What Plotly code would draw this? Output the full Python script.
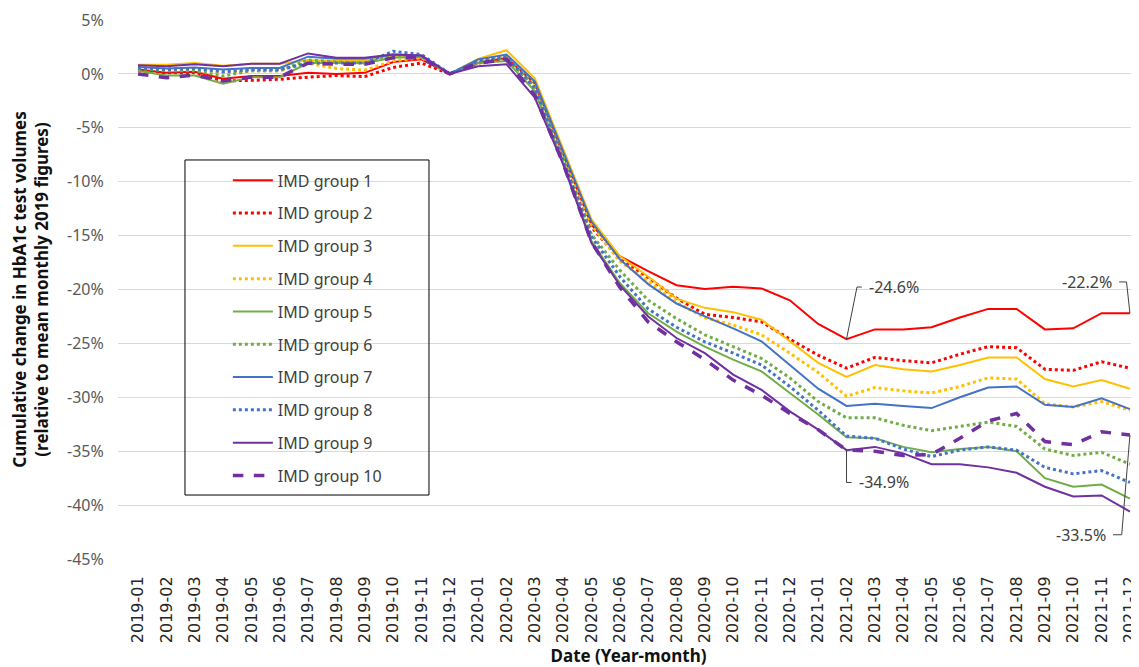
import plotly.graph_objects as go

months = ["2019-01","2019-02","2019-03","2019-04","2019-05","2019-06","2019-07","2019-08","2019-09","2019-10","2019-11","2019-12",
          "2020-01","2020-02","2020-03","2020-04","2020-05","2020-06","2020-07","2020-08","2020-09","2020-10","2020-11","2020-12",
          "2021-01","2021-02","2021-03","2021-04","2021-05","2021-06","2021-07","2021-08","2021-09","2021-10","2021-11","2021-12"]

imd1 = [0.4, 0.1, 0.2, -0.45, -0.2, -0.2, 0.1, 0.0, 0.1, 1.1, 1.35, 0, 1.0, 1.5, -0.9, -7.5, -14.0, -16.9, -18.3, -19.6, -19.95, -19.75, -19.9, -21.0, -23.2, -24.6, -23.7, -23.7, -23.5, -22.6, -21.8, -21.8, -23.7, -23.6, -22.2, -22.2]
imd2 = [0.3, 0.1, 0.1, -0.65, -0.6, -0.5, -0.3, -0.15, -0.25, 0.6, 1.0, 0, 1.0, 1.4, -1.0, -7.6, -14.2, -17.2, -18.9, -20.8, -22.3, -22.6, -23.0, -24.6, -26.1, -27.3, -26.3, -26.6, -26.8, -26.0, -25.3, -25.4, -27.4, -27.5, -26.7, -27.3]
imd3 = [0.85, 0.85, 1.0, 0.75, 0.95, 0.95, 1.3, 1.2, 1.2, 1.7, 1.6, 0, 1.4, 2.2, -0.4, -7.0, -13.5, -16.9, -18.8, -20.85, -21.7, -22.1, -22.8, -24.8, -26.8, -28.1, -27.0, -27.4, -27.6, -27.0, -26.3, -26.3, -28.3, -29.0, -28.4, -29.2]
imd4 = [0.6, 0.5, 0.5, 0.1, 0.3, 0.3, 1.0, 0.5, 0.35, 1.2, 1.5, 0, 1.2, 1.7, -0.8, -7.5, -14.0, -17.4, -19.2, -21.2, -22.6, -23.3, -24.2, -25.9, -27.7, -29.9, -29.1, -29.4, -29.6, -29.0, -28.2, -28.3, -30.6, -30.9, -30.4, -31.2]
imd5 = [0.3, -0.15, -0.15, -0.9, -0.3, -0.3, 1.0, 1.0, 1.0, 1.5, 1.6, 0, 1.0, 1.2, -1.6, -8.2, -15.5, -19.4, -22.2, -23.9, -25.3, -26.5, -27.6, -29.6, -31.6, -33.7, -33.8, -34.6, -35.1, -34.8, -34.6, -35.0, -37.5, -38.3, -38.1, -39.4]
imd6 = [0.5, 0.3, 0.3, -0.2, 0.3, 0.3, 1.3, 1.1, 1.0, 1.7, 1.6, 0, 1.2, 1.5, -1.2, -7.9, -14.9, -18.2, -21.0, -22.7, -24.2, -25.3, -26.4, -28.2, -30.4, -31.9, -31.9, -32.6, -33.1, -32.7, -32.3, -32.7, -34.8, -35.4, -35.1, -36.2]
imd7 = [0.65, 0.5, 0.6, 0.4, 0.55, 0.55, 1.6, 1.4, 1.4, 1.8, 1.7, 0, 1.35, 1.8, -0.7, -7.2, -13.7, -17.2, -19.5, -21.3, -22.5, -23.6, -24.8, -27.0, -29.2, -30.8, -30.6, -30.8, -31.0, -30.0, -29.1, -29.0, -30.7, -30.9, -30.1, -31.1]
imd8 = [0.55, 0.4, 0.5, 0.2, 0.4, 0.4, 1.0, 1.0, 1.0, 2.1, 1.8, 0, 1.2, 1.6, -1.3, -8.0, -15.1, -18.8, -21.8, -23.5, -24.85, -25.9, -27.0, -29.0, -31.2, -33.6, -33.8, -34.8, -35.5, -34.9, -34.6, -34.9, -36.5, -37.1, -36.8, -37.9]
imd9 = [0.8, 0.7, 0.9, 0.7, 0.95, 0.95, 1.9, 1.5, 1.5, 1.8, 1.7, 0, 0.7, 0.9, -2.2, -8.4, -15.7, -19.6, -22.5, -24.5, -25.9, -27.9, -29.3, -31.3, -33.0, -34.9, -34.6, -35.2, -36.2, -36.2, -36.5, -37.0, -38.3, -39.2, -39.1, -40.6]
imd10 = [0.0, -0.35, -0.1, -0.65, -0.3, -0.3, 1.0, 0.9, 0.9, 1.5, 1.5, 0, 1.0, 1.35, -2.0, -8.3, -15.6, -19.8, -23.0, -24.85, -26.5, -28.4, -29.8, -31.5, -33.0, -34.9, -35.0, -35.4, -35.3, -33.8, -32.2, -31.5, -34.1, -34.4, -33.2, -33.5]

series_names = ["IMD group 1","IMD group 2","IMD group 3","IMD group 4","IMD group 5",
                "IMD group 6","IMD group 7","IMD group 8","IMD group 9","IMD group 10"]
series_values = [imd1, imd2, imd3, imd4, imd5, imd6, imd7, imd8, imd9, imd10]
colors = ["#FF0000","#FF0000","#FFC000","#FFC000","#70AD47","#70AD47","#4472C4","#4472C4","#7030A0","#7030A0"]
dashes = ["solid","dot","solid","dot","solid","dot","solid","dot","solid","dash"]
widths = [2, 3, 2, 3, 2, 3, 2, 3, 2, 3.5]

y_ticks = [5, 0, -5, -10, -15, -20, -25, -30, -35, -40, -45]
y_ticktext = [f"{v}%" for v in y_ticks]

fig = go.Figure()
for name, vals, c, d, w in zip(series_names, series_values, colors, dashes, widths):
    fig.add_trace(go.Scatter(x=months, y=vals, mode="lines", name=name, legendgroup=name,
                             line=dict(color=c, dash=d, width=w)))

# callouts: (series index, month index, label, elbow dx [idx units], elbow dy [%], tail dx, text side)
callouts = [
    (0, 25, "-24.6%", 0.37, 4.83, 0.17, "left"),
    (0, 35, "-22.2%", -0.12, 2.9, -0.26, "right"),
    (8, 25, "-34.9%", 0.0, -3.0, 0.18, "left"),
    (9, 35, "-33.5%", -0.29, -9.25, -0.31, "right"),
]
for si, mi, label, edx, edy, tdx, side in callouts:
    y0 = series_values[si][mi]
    ey = y0 + edy
    fig.add_shape(type="line", x0=mi, y0=y0, x1=mi + edx, y1=ey, xref="x", yref="y",
                  line=dict(color="#404040", width=1))
    fig.add_shape(type="line", x0=mi + edx, y0=ey, x1=mi + edx + tdx, y1=ey, xref="x", yref="y",
                  line=dict(color="#404040", width=1))
    fig.add_annotation(x=mi + edx + tdx, y=ey, text=label, showarrow=False,
                       xanchor="left" if side == "left" else "right",
                       xshift=5 if side == "left" else -5,
                       font=dict(family="Noto Sans", size=16, color="#404040"))

# legend frame
fig.add_shape(type="rect", xref="paper", yref="paper", x0=0.0656, x1=0.3046, y0=0.1187, y1=0.7403,
              line=dict(color="#000000", width=1), fillcolor="rgba(0,0,0,0)")

fig.update_layout(
    width=1131, height=659,
    margin=dict(l=110, r=0, t=12, b=108, autoexpand=False),
    paper_bgcolor="white", plot_bgcolor="white",
    font=dict(family="Noto Sans", color="#404040"),
    showlegend=True,
    legend=dict(x=0.1076, y=0.734, xanchor="left", yanchor="top",
                font=dict(family="Noto Sans", size=16, color="#404040"),
                bgcolor="rgba(0,0,0,0)", tracegroupgap=9, itemwidth=40, traceorder="grouped"),
    xaxis=dict(type="category", range=[-0.706, 35.32], tickangle=-90, automargin=False,
               tickfont=dict(family="DejaVu Sans", size=16, color="#262626"),
               showgrid=False, zeroline=False, showline=False,
               ticks="outside", ticklen=10, tickcolor="rgba(0,0,0,0)",
               title=dict(text="<b>Date (Year-month)</b>", standoff=10,
                          font=dict(family="Noto Sans", size=17, color="#111111"))),
    yaxis=dict(range=[-45, 5], tickvals=y_ticks, ticktext=y_ticktext, automargin=False,
               tickfont=dict(family="Noto Sans", size=16, color="#595959"),
               showgrid=True, gridcolor="#D9D9D9", gridwidth=1, zeroline=False, showline=False,
               ticks="outside", ticklen=10, tickcolor="rgba(0,0,0,0)",
               title=dict(text="<b>Cumulative change in HbA1c test volumes<br>(relative to mean monthly 2019 figures)</b>",
                          standoff=14, font=dict(family="Noto Sans", size=17, color="#111111"))),
)

fig.write_html("out.html")
